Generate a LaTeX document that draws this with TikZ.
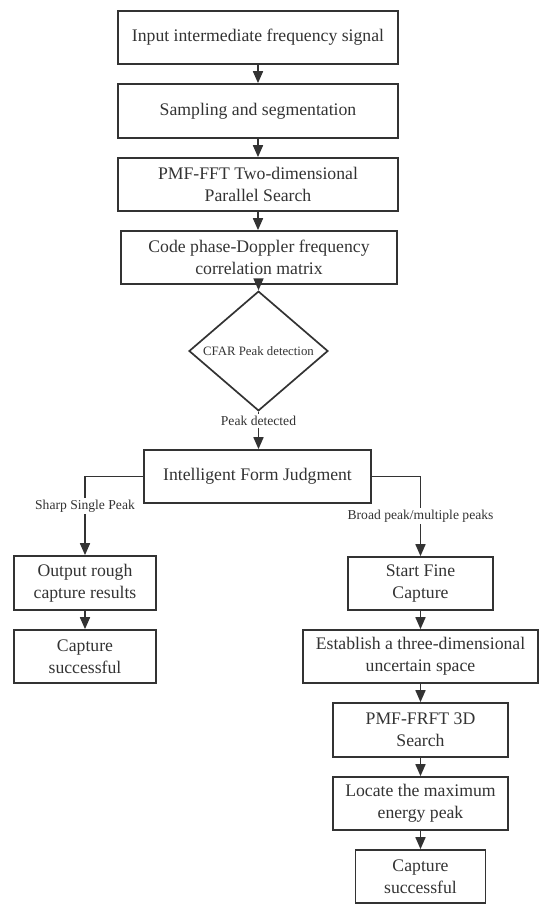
\documentclass[tikz,border=0pt]{standalone}
\usepackage{fontspec}
\setmainfont{Liberation Serif}
\usetikzlibrary{shapes.geometric,arrows.meta}
\definecolor{ink}{HTML}{333333}
\begin{document}
\begin{tikzpicture}[x=1pt,y=-1pt,
  box/.style={draw=ink,line width=1.7pt,text=ink,align=center,inner sep=2pt,
    font=\fontsize{17.7}{22}\selectfont},
  dia/.style={draw=ink,line width=1.7pt,text=ink,diamond,inner sep=0pt,
    minimum width=139pt,minimum height=92pt,font=\fontsize{12.8}{15}\selectfont},
  lbl/.style={fill=white,text=ink,inner sep=2pt,font=\fontsize{13.6}{16}\selectfont},
  conn/.style={draw=ink,line width=1.7pt},
  arr/.style={conn,-{Triangle[length=12pt,width=10pt]}}]
\useasboundingbox (0,0) rectangle (550,918);
\node[box,minimum width=280pt,minimum height=53pt] (b1) at (258,37.5) {Input intermediate frequency signal};
\node[box,minimum width=280pt,minimum height=54pt] (b2) at (258,111) {Sampling and segmentation};
\node[box,minimum width=280pt,minimum height=53pt] (b3) at (258,184.5) {PMF-FFT Two-dimensional\\Parallel Search};
\node[box,minimum width=276pt,minimum height=53pt] (b4) at (259,257.5) {Code phase-Doppler frequency\\correlation matrix};
\node[dia] (d) at (258.5,351) {CFAR Peak detection};
\node[box,minimum width=227pt,minimum height=53pt] (j) at (257.5,476.5) {Intelligent Form Judgment};
\node[box,minimum width=142pt,minimum height=54pt] (l1) at (85,583) {Output rough\\capture results};
\node[box,minimum width=142pt,minimum height=53pt] (l2) at (85,656.5) {Capture\\successful};
\node[box,minimum width=145pt,minimum height=53pt] (r1) at (420.5,583.5) {Start Fine\\Capture};
\node[box,minimum width=235pt,minimum height=53pt] (r2) at (420.5,656.5) {Establish a three-dimensional\\uncertain space};
\node[box,minimum width=175pt,minimum height=54pt] (r3) at (420.5,730) {PMF-FRFT 3D\\Search};
\node[box,minimum width=175pt,minimum height=53pt] (r4) at (420.5,803.5) {Locate the maximum\\energy peak};
\node[box,minimum width=130pt,minimum height=53pt] (r5) at (420.5,876.5) {Capture\\successful};

\draw[arr] (b1) -- (b2);
\draw[arr] (b2) -- (b3);
\draw[arr] (b3) -- (b4.north -| b3.south);
\draw[arr] (b4.south -| d.north) -- (d.north);
\draw[arr] (d.south) -- (d.south |- j.north);
\node[lbl] (lpd) at (258.5,421) {Peak detected};
\draw[arr] (j.west) -| (l1.north);
\node[lbl] (lss) at (85,506) {Sharp Single Peak};
\draw[arr] (j.east) -| (r1.north);
\node[lbl] (lbp) at (420.5,516) {Broad peak/multiple peaks};
\draw[arr] (l1) -- (l2);
\draw[arr] (r1) -- (r2);
\draw[arr] (r2) -- (r3);
\draw[arr] (r3) -- (r4);
\draw[arr] (r4) -- (r5);
\end{tikzpicture}
\end{document}
